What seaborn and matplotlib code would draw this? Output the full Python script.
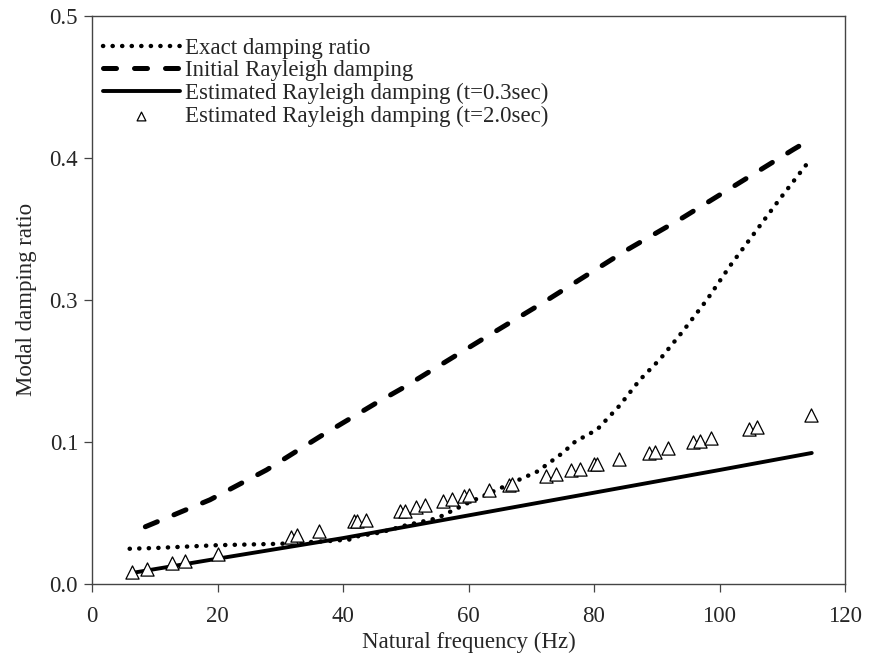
import numpy as np
import pandas as pd
import matplotlib
matplotlib.use("Agg")
import matplotlib.pyplot as plt
import seaborn as sns

# ---- data ----
exact_freq = [6.0, 10, 20, 30, 38, 41, 42, 46, 50, 55, 60, 66, 71, 75, 77, 80.5,
              84, 87.3, 90.5, 94.2, 98, 101.7, 105.4, 109.6, 114.5]
exact_ratio = [0.0245, 0.025, 0.027, 0.028, 0.030, 0.031, 0.033, 0.036, 0.041, 0.046,
               0.057, 0.069, 0.079, 0.092, 0.100, 0.117, 0.150, 0.187, 0.216, 0.256,
               0.300, 0.324, 0.346, 0.371, 0.399]

initial_freq = [8.5, 18.8, 27.8, 36.3, 45.4, 49.6, 62.9, 71.9, 85.2, 94.2, 103.0, 111.8, 114.5]
initial_ratio = [0.040, 0.059, 0.080, 0.107, 0.155, 0.176, 0.248, 0.296, 0.335, 0.358,
                 0.382, 0.406, 0.413]

est03_freq = [6.6, 20, 40, 60, 80, 100, 114.7]
est03_ratio = [0.0076, 0.0175, 0.032, 0.048, 0.064, 0.080, 0.092]

est20_freq = [6.3, 8.7, 12.8, 14.8, 20.1, 31.7, 32.7, 36.2, 41.7, 42.3, 43.7, 49.1, 49.9,
              51.7, 53.1, 56.0, 57.4, 59.3, 60.0, 63.3, 66.5, 67.0, 72.3, 73.9, 76.4,
              77.8, 80.0, 80.4, 84.0, 88.8, 89.7, 91.8, 95.7, 96.9, 98.6, 104.7, 105.9,
              114.6]
est20_ratio = [0.0083, 0.0102, 0.0143, 0.016, 0.021, 0.033, 0.034, 0.037, 0.044, 0.044,
               0.045, 0.051, 0.051, 0.054, 0.055, 0.058, 0.0595, 0.0615, 0.0625, 0.066,
               0.0695, 0.070, 0.076, 0.077, 0.080, 0.081, 0.084, 0.084, 0.088, 0.092,
               0.093, 0.0955, 0.0998, 0.1014, 0.105, 0.118, 0.121, 0.138]

x_ticks = [0, 20, 40, 60, 80, 100, 120]
y_ticks = [0.0, 0.1, 0.3, 0.4, 0.5]

labels = ["Exact damping ratio", "Initial Rayleigh damping",
          "Estimated Rayleigh damping (t=0.3sec)", "Estimated Rayleigh damping (t=2.0sec)"]

# ---- style ----
sns.set_style("ticks")
plt.rcParams["font.family"] = ["Liberation Serif", "DejaVu Serif"]
plt.rcParams["font.size"] = 16.5

fig = plt.figure(figsize=(8.69, 6.6), dpi=100)
ax = fig.add_axes([92 / 869, 1 - 583.5 / 660, (845 - 92) / 869, (583.5 - 16) / 660])


# broken (piecewise-linear) y scale: 0-0.1, 0.1-0.3, 0.3-0.5 mapped like the reference
def fwd(y):
    y = np.asarray(y, dtype=float)
    return np.where(y < 0.1, y * 10, np.where(y < 0.3, 1 + (y - 0.1) * 5, 2 + (y - 0.3) * 10))


def inv(t):
    t = np.asarray(t, dtype=float)
    return np.where(t < 1, t / 10, np.where(t < 2, 0.1 + (t - 1) / 5, 0.3 + (t - 2) / 10))


ax.set_yscale("function", functions=(fwd, inv))

df_exact = pd.DataFrame({"f": exact_freq, "z": exact_ratio})
df_init = pd.DataFrame({"f": initial_freq, "z": initial_ratio})
df_e03 = pd.DataFrame({"f": est03_freq, "z": est03_ratio})
df_e20 = pd.DataFrame({"f": est20_freq, "z": est20_ratio})

sns.lineplot(data=df_exact, x="f", y="z", ax=ax, color="black", lw=3.2,
             linestyle=(0, (0.05, 2.1)), dash_capstyle="round", label=labels[0],
             sort=False, estimator=None)
sns.lineplot(data=df_init, x="f", y="z", ax=ax, color="black", lw=3.6,
             linestyle=(0, (2.6, 3.6)), dash_capstyle="round", label=labels[1],
             sort=False, estimator=None)
sns.lineplot(data=df_e03, x="f", y="z", ax=ax, color="black", lw=2.8,
             label=labels[2], sort=False, estimator=None)
sns.scatterplot(data=df_e20, x="f", y="z", ax=ax, marker="^", s=90,
                facecolor="white", edgecolor="black", linewidth=0.9,
                label=labels[3], zorder=5)

ax.set_xlim(0, 120)
ax.set_ylim(0, 0.5)
ax.set_xticks(x_ticks)
ax.set_xticklabels([str(v) for v in x_ticks])
ax.set_yticks(y_ticks)
ax.set_yticklabels([f"{v:.1f}" for v in y_ticks])
ax.minorticks_off()
ax.yaxis.set_minor_locator(matplotlib.ticker.NullLocator())

ax.set_xlabel("Natural frequency (Hz)", fontsize=16.5, labelpad=4)
ax.set_ylabel("Modal damping ratio", fontsize=16.5, labelpad=9)

for s in ax.spines.values():
    s.set_visible(True)
    s.set_color("#444444")
    s.set_linewidth(1.0)
ax.tick_params(direction="out", length=6, width=0.9, color="#444444",
               labelsize=16.5, pad=4)
ax.tick_params(axis="x", pad=10)

handles, labs = ax.get_legend_handles_labels()
leg = ax.legend(handles, labs, loc="upper left", bbox_to_anchor=(0.0146, 0.962),
                frameon=False, fontsize=16.5, handlelength=3.35, handletextpad=0.25,
                labelspacing=0.07, borderpad=0, borderaxespad=0)
try:
    leg.legend_handles[3].set_sizes([40])
except Exception:
    pass

fig.savefig("out.png", dpi=100)
